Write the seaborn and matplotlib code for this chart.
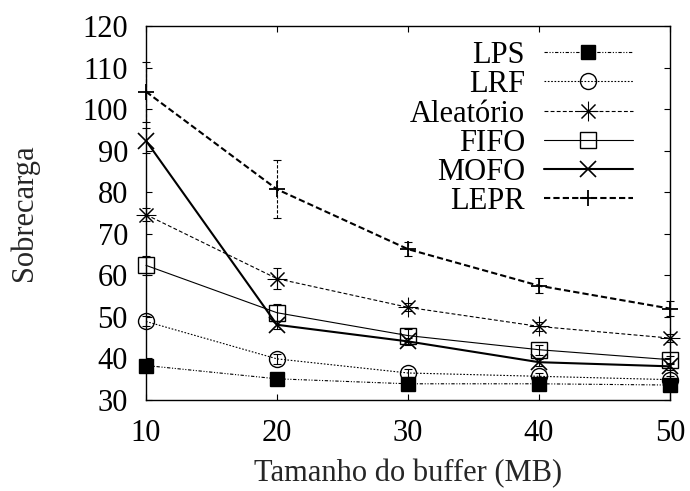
import matplotlib
matplotlib.use("Agg")
import matplotlib.pyplot as plt
import seaborn as sns
import pandas as pd

# Buffer sizes (MB) and measured overhead per replacement policy
buffer_mb = [10, 20, 30, 40, 50]

lps = [38.3, 35.1, 33.9, 33.9, 33.6]
lrf = [48.9, 39.9, 36.5, 35.7, 34.9]
aleatorio = [74.6, 59.2, 52.3, 47.7, 44.9]
fifo = [62.4, 51.0, 45.5, 42.1, 39.7]
mofo = [92.4, 48.1, 44.1, 39.1, 38.1]
lepr = [104.2, 80.7, 66.3, 57.5, 52.0]

# Confidence half-widths
lps_err = [0.5, 0.5, 0.3, 0.3, 0.3]
lrf_err = [1.2, 1.2, 1.0, 0.8, 0.8]
aleatorio_err = [1.5, 2.5, 1.0, 1.0, 1.0]
fifo_err = [2.2, 2.0, 1.5, 1.2, 1.0]
mofo_err = [3.0, 1.0, 0.8, 0.8, 0.8]
lepr_err = [7.2, 7.0, 1.7, 1.8, 1.8]

series_names = ["LPS", "LRF", "Aleatório", "FIFO", "MOFO", "LEPR"]
series_values = [lps, lrf, aleatorio, fifo, mofo, lepr]
series_errors = [lps_err, lrf_err, aleatorio_err, fifo_err, mofo_err, lepr_err]

x_ticks = [10, 20, 30, 40, 50]
y_ticks = [30, 40, 50, 60, 70, 80, 90, 100, 110, 120]

styles = {
    "LPS": dict(marker="s", ms=10.5, mfc="black", ls=(0, (3, 1.5, 1, 1.5, 1, 1.5)), lw=0.8, mew=1.0),
    "LRF": dict(marker="o", ms=11.5, mfc="none", ls=(0, (1.5, 1.5)), lw=0.8, mew=1.0),
    "Aleatório": dict(marker=(8, 2, 0), ms=14, mfc="black", ls=(0, (3.5, 2)), lw=0.8, mew=0.75),
    "FIFO": dict(marker="s", ms=11.5, mfc="none", ls="-", lw=0.8, mew=1.0),
    "MOFO": dict(marker="x", ms=11, mfc="black", ls="-", lw=1.5, mew=1.2),
    "LEPR": dict(marker="+", ms=11, mfc="black", ls=(0, (3, 1.5)), lw=1.5, mew=1.3),
}

FS = 22

sns.set_theme(style="ticks")
plt.rcParams["font.family"] = ["Liberation Serif", "DejaVu Serif"]
plt.rcParams["font.size"] = FS

fig = plt.figure(figsize=(6.9, 4.91), dpi=100)
ax = fig.add_axes([146 / 690, 1 - 400 / 491, 524 / 690, 374 / 491])

for name, vals, errs in zip(series_names, series_values, series_errors):
    st = styles[name]
    df = pd.DataFrame({"buffer": buffer_mb, "value": vals})
    sns.lineplot(data=df, x="buffer", y="value", ax=ax, color="black",
                 linewidth=st["lw"], linestyle=st["ls"], marker=st["marker"],
                 markersize=st["ms"], markerfacecolor=st["mfc"],
                 markeredgecolor="black", markeredgewidth=st["mew"],
                 clip_on=False, zorder=3, legend=False)
    eb = ax.errorbar(buffer_mb, vals, yerr=errs, fmt="none", ecolor="black",
                     elinewidth=0.8, capsize=3, capthick=0.8, zorder=2,
                     clip_on=False)
    for coll in eb[2]:
        coll.set_linestyle(st["ls"] if name == "LEPR" else "-")

ax.set_xlim(10, 50)
ax.set_ylim(30, 120)
ax.set_xticks(x_ticks)
ax.set_yticks(y_ticks)
ax.tick_params(direction="in", length=4, width=0.8, top=True, right=True,
               labelsize=FS, colors="black")
ax.tick_params(axis="x", pad=14)
ax.tick_params(axis="y", pad=13)
for sp in ax.spines.values():
    sp.set_visible(True)
    sp.set_linewidth(1.0)
    sp.set_color("black")

ax.set_xlabel("Tamanho do buffer (MB)", fontsize=FS)
ax.set_ylabel("Sobrecarga", fontsize=FS)
ax.xaxis.set_label_coords(0.5, -0.158)
ax.yaxis.set_label_coords(-0.205, 0.5)

# Key: labels right-aligned to the left of each line sample
key_text_x = 0.723
key_x0, key_x1 = 0.7595, 0.9294
key_mid = (key_x0 + key_x1) / 2
key_top = 0.93
key_step = 0.078
for i, name in enumerate(series_names):
    st = styles[name]
    ky = key_top - i * key_step
    ax.text(key_text_x, ky, name, transform=ax.transAxes, ha="right",
            va="center_baseline", fontsize=FS, color="black")
    ax.plot([key_x0, key_x1], [ky, ky], transform=ax.transAxes,
            color="black", lw=st["lw"], ls=st["ls"], clip_on=False)
    ax.plot([key_mid], [ky], transform=ax.transAxes, color="black",
            marker=st["marker"], ms=st["ms"], mfc=st["mfc"],
            mec="black", mew=st["mew"], ls="none", clip_on=False)

fig.savefig("out.png", dpi=100)
